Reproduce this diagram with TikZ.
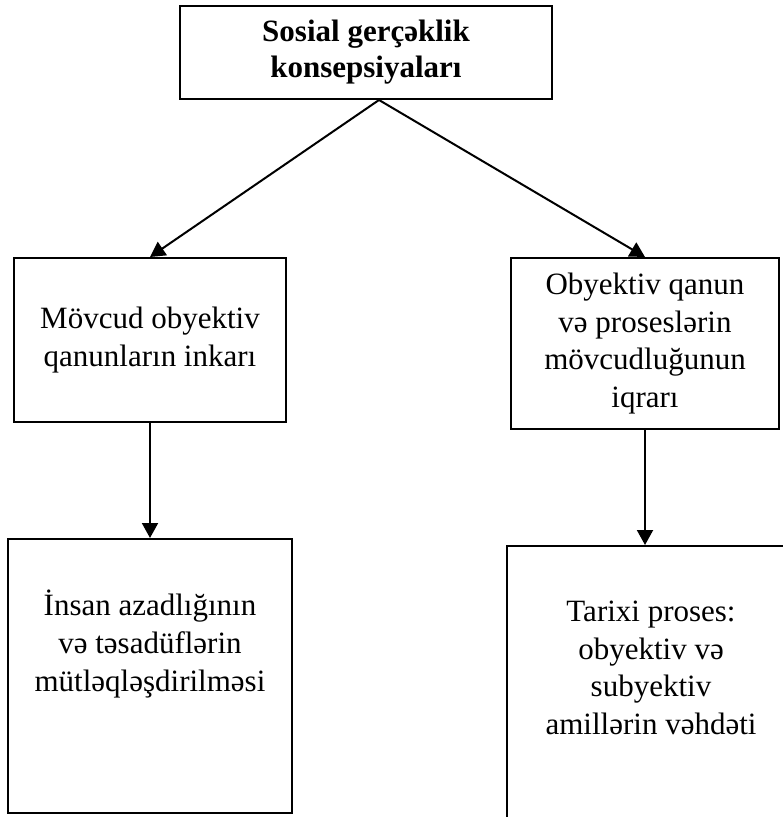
\documentclass[tikz,border=0pt]{standalone}
\usepackage{fontspec}
\setmainfont{Liberation Serif}
\usetikzlibrary{arrows.meta}

\begin{document}
\begin{tikzpicture}[x=0.5pt,y=-0.5pt,
  box/.style={draw,line width=1pt,inner sep=0pt,align=center,font=\fontsize{15.5}{18.8}\selectfont},
  txt/.style={align=center,inner sep=0pt,font=\fontsize{15.5}{18.8}\selectfont},
  arr/.style={-{Triangle[length=7.5pt,width=8pt]},line width=1pt}]
  \useasboundingbox (0,0) rectangle (782,817);
  % top box
  \node[box,minimum width=186pt,minimum height=46.5pt,font=\fontsize{15.5}{18}\selectfont\bfseries] (concept) at (366,52.5) {Sosial gerçəklik\\konsepsiyaları};
  % second row
  \node[box,minimum width=136pt,minimum height=82pt] (denial) at (150,340) {Mövcud obyektiv\\qanunların inkarı};
  \node[box,minimum width=134pt,minimum height=85.5pt] (recog) at (645,343.5) {Obyektiv qanun\\və proseslərin\\mövcudluğunun\\iqrarı};
  % third row
  \node[box,minimum width=142pt,minimum height=137pt,label={[txt,yshift=16pt]center:{İnsan azadlığının\\və təsadüflərin\\mütləqləşdirilməsi}}] (absolute) at (150,676) {};
  \node[box,minimum width=144pt,minimum height=145pt,label={[txt,yshift=11.5pt]center:{Tarixi proses:\\obyektiv və\\subyektiv\\amillərin vəhdəti}}] (unity) at (651,691) {};
  % arrows
  \draw[arr] ([xshift=6.5pt]concept.south) -- (denial.north);
  \draw[arr] ([xshift=6.5pt]concept.south) -- (recog.north);
  \draw[arr] (denial) -- (absolute);
  \draw[arr] (recog.south) -- (recog.south |- unity.north);
\end{tikzpicture}
\end{document}
